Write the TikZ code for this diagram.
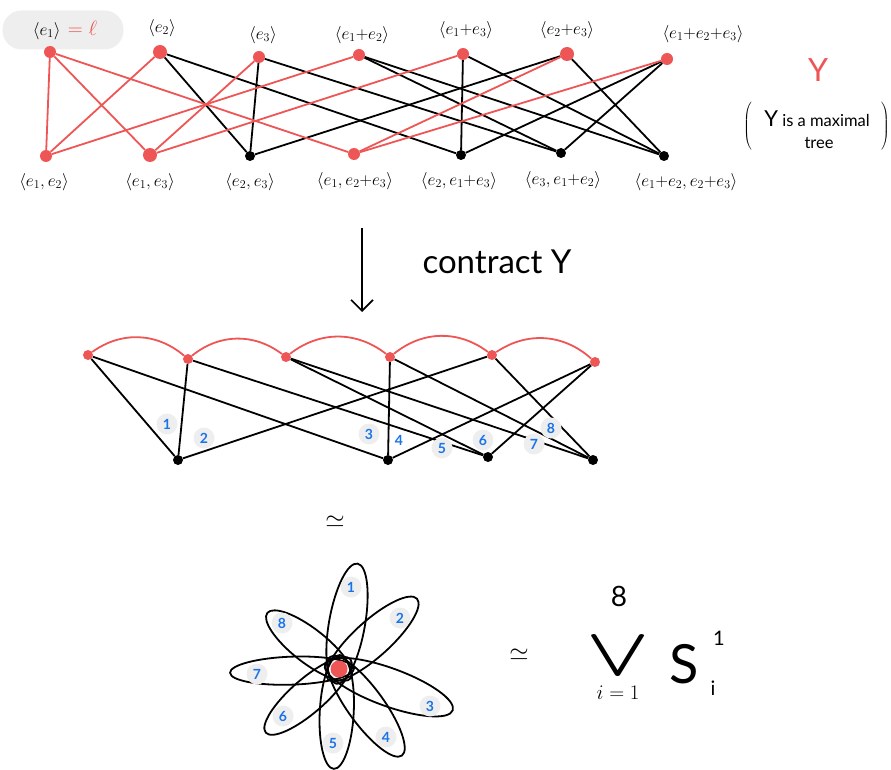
\documentclass[tikz,border=0pt]{standalone}
\usepackage{amsmath,amssymb}
\usepackage{fontspec}
\setmainfont{Lato}
\usetikzlibrary{arrows.meta,calc}
\definecolor{myred}{RGB}{238,85,85}
\definecolor{myblue}{RGB}{25,115,235}
\definecolor{bgray}{RGB}{238,238,238}
\begin{document}
\begin{tikzpicture}[x=1pt,y=1pt,
  rdot/.style={circle,fill=myred,inner sep=0pt,minimum size=12pt},
  bdot/.style={circle,fill=black,inner sep=0pt,minimum size=10pt},
  redge/.style={myred,line width=1.8pt},
  bedge/.style={black,line width=1.8pt},
  lbl/.style={font=\fontsize{17.28}{19}\selectfont, inner sep=1pt},
  num/.style={circle,fill=bgray,text=myblue,inner sep=0pt,minimum size=21pt,font=\fontsize{14}{16}\selectfont\bfseries},
  petal/.style={draw,line width=1.8pt}]
\useasboundingbox (0,0) rectangle (891,-770);

% ---------- top graph ----------
\node[fill=bgray,rounded corners=19pt,minimum width=121pt,minimum height=39pt] (bgbox) at (63,-30) {};
\node[lbl] (lt1) at (65,-30) {$\langle e_1\rangle$\, {\color{myred}\fontsize{20.74}{24}\selectfont$=\ell$}};
\node[lbl] (lt2) at (162,-28) {$\langle e_2\rangle$};
\node[lbl] (lt3) at (263,-35) {$\langle e_3\rangle$};
\node[lbl] (lt4) at (362,-35) {$\langle e_1{+}e_2\rangle$};
\node[lbl] (lt5) at (466,-30) {$\langle e_1{+}e_3\rangle$};
\node[lbl] (lt6) at (567,-30) {$\langle e_2{+}e_3\rangle$};
\node[lbl] (lt7) at (703,-34) {$\langle e_1{+}e_2{+}e_3\rangle$};

\node[lbl] (lb1) at (44,-182) {$\langle e_1,e_2\rangle$};
\node[lbl] (lb2) at (150,-182) {$\langle e_1,e_3\rangle$};
\node[lbl] (lb3) at (250,-182) {$\langle e_2,e_3\rangle$};
\node[lbl] (lb4) at (355,-181) {$\langle e_1,e_2{+}e_3\rangle$};
\node[lbl] (lb5) at (459,-181) {$\langle e_2,e_1{+}e_3\rangle$};
\node[lbl] (lb6) at (563,-180) {$\langle e_3,e_1{+}e_2\rangle$};
\node[lbl] (lb7) at (686,-182) {$\langle e_1{+}e_2,e_2{+}e_3\rangle$};

\node[rdot] (T1) at (50,-52) {};
\node[rdot,minimum size=14pt] (T2) at (160,-52) {};
\node[rdot] (T3) at (259,-57) {};
\node[rdot] (T4) at (359,-55) {};
\node[rdot] (T5) at (463,-54) {};
\node[rdot,minimum size=14pt] (T6) at (567,-54) {};
\node[rdot] (T7) at (667,-59) {};
\node[rdot] (B1) at (46,-156) {};
\node[rdot,minimum size=14pt] (B2) at (150,-155) {};
\node[bdot] (B3) at (250,-156) {};
\node[rdot] (B4) at (354,-154) {};
\node[bdot] (B5) at (461,-155) {};
\node[bdot] (B6) at (561,-153) {};
\node[bdot] (B7) at (664,-156) {};

\draw[bedge] (T2) -- (B3); \draw[bedge] (T2) -- (B5);
\draw[bedge] (T3) -- (B3); \draw[bedge] (T3) -- (B6);
\draw[bedge] (T4) -- (B6); \draw[bedge] (T4) -- (B7);
\draw[bedge] (T5) -- (B5); \draw[bedge] (T5) -- (B7);
\draw[bedge] (T6) -- (B3); \draw[bedge] (T6) -- (B7);
\draw[bedge] (T7) -- (B5); \draw[bedge] (T7) -- (B6);
\draw[redge] (T1) -- (B1); \draw[redge] (T1) -- (B2); \draw[redge] (T1) -- (B4);
\draw[redge] (T2) -- (B1); \draw[redge] (T3) -- (B2); \draw[redge] (T4) -- (B1);
\draw[redge] (T5) -- (B2); \draw[redge] (T6) -- (B4); \draw[redge] (T7) -- (B4);

\node[text=myred,font=\fontsize{32}{34}\selectfont] (Ylab) at (818,-70) {Y};
\node[inner sep=0pt] (pl) at (748,-127) {$\left(\vrule height 23pt depth 23pt width 0pt\right.$};
\node[inner sep=0pt] (pr) at (885,-127) {$\left.\vrule height 23pt depth 23pt width 0pt\right)$};
\node[inner sep=0pt,font=\fontsize{16.5}{20}\selectfont] (note1) at (817,-119) {{\fontsize{22}{22}\selectfont Y} is a maximal};
\node[inner sep=0pt,font=\fontsize{16.5}{20}\selectfont] (note2) at (819,-143) {tree};

% ---------- arrow ----------
\coordinate (a1) at (362,-228);
\coordinate (a2) at (362,-312);
\draw[line width=1.6pt,-{Straight Barb[length=11pt,width=22pt]}] (a1) -- (a2);
\node[font=\fontsize{33}{36}\selectfont] (contract) at (497,-262) {contract Y};

% ---------- middle graph ----------
\node[rdot,minimum size=10pt] (M1) at (88,-355) {};
\node[rdot,minimum size=10pt] (M2) at (188,-359) {};
\node[rdot,minimum size=10pt] (M3) at (286,-357) {};
\node[rdot,minimum size=10pt] (M4) at (390,-357) {};
\node[rdot,minimum size=10pt] (M5) at (492,-355) {};
\node[rdot,minimum size=10pt] (M6) at (595,-362) {};
\node[bdot] (N1) at (178,-460) {};
\node[bdot] (N2) at (388,-460) {};
\node[bdot] (N3) at (488,-457) {};
\node[bdot] (N4) at (593,-460) {};

\draw[redge] (M1) to[bend left=38] (M2);
\draw[redge] (M2) to[bend left=38] (M3);
\draw[redge] (M3) to[bend left=38] (M4);
\draw[redge] (M4) to[bend left=38] (M5);
\draw[redge] (M5) to[bend left=38] (M6);

\draw[bedge] (M1) -- (N1); \draw[bedge] (M1) -- (N2);
\draw[bedge] (M2) -- (N1); \draw[bedge] (M2) -- (N3);
\draw[bedge] (M3) -- (N3); \draw[bedge] (M3) -- (N4);
\draw[bedge] (M4) -- (N2); \draw[bedge] (M4) -- (N4);
\draw[bedge] (M5) -- (N1); \draw[bedge] (M5) -- (N4);
\draw[bedge] (M6) -- (N2); \draw[bedge] (M6) -- (N3);

\node[num] (m1) at (167,-424) {1};
\node[num] (m2) at (204,-438) {2};
\node[num] (m3) at (369,-434) {3};
\node[num,fill=none] (m4) at (399,-440) {4};
\node[num] (m5) at (442,-448) {5};
\node[num] (m6) at (483,-440) {6};
\node[num] (m7) at (534,-444) {7};
\node[num] (m8) at (551,-428) {8};

% ---------- flower ----------
\node[font=\fontsize{24.88}{26}\selectfont] (eq1) at (335,-522) {$\simeq$};
\coordinate (O) at (339,-669);
\draw[petal] ($(O)+(80:46)$)   ellipse[x radius=61,y radius=18,rotate=80];
\draw[petal] ($(O)+(42:45)$)   ellipse[x radius=60,y radius=18,rotate=42];
\draw[petal] ($(O)+(-20:53)$)  ellipse[x radius=68,y radius=19,rotate=-20];
\draw[petal] ($(O)+(-54:46)$)  ellipse[x radius=61,y radius=18,rotate=-54];
\draw[petal] ($(O)+(-93:43)$)  ellipse[x radius=57,y radius=17,rotate=-93];
\draw[petal] ($(O)+(221:41)$)  ellipse[x radius=56,y radius=17,rotate=221];
\draw[petal] ($(O)+(182:47)$)  ellipse[x radius=62,y radius=14,rotate=182];
\draw[petal] ($(O)+(142:38)$)  ellipse[x radius=53,y radius=17,rotate=142];
\node[rdot,minimum size=17pt] (center) at (O) {};

\node[num] (p1) at (351,-587) {1};
\node[num] (p2) at (400,-618) {2};
\node[num] (p3) at (430,-706) {3};
\node[num] (p4) at (386,-737) {4};
\node[num] (p5) at (333,-743) {5};
\node[num] (p6) at (283,-716) {6};
\node[num] (p7) at (257,-674) {7};
\node[num] (p8) at (282,-623) {8};

% ---------- formula ----------
\node[font=\fontsize{24.88}{26}\selectfont] (eq2) at (519,-655) {$\simeq$};
\node[font=\fontsize{28}{28}\selectfont,inner sep=0pt] (top8) at (619,-596) {8};
\node[font=\fontsize{42}{42}\selectfont,inner sep=0pt] (vee) at (618,-655) {\scalebox{1.75}[1]{$\bigvee$}};
\node[font=\fontsize{20.74}{22}\selectfont] (low) at (618,-693) {$i=1$};
\node[font=\fontsize{54}{54}\selectfont] (S) at (684,-664) {S};
\node[font=\fontsize{20}{20}\selectfont] (sup1) at (719,-638) {1};
\node[font=\fontsize{20}{20}\selectfont] (subi) at (713,-688) {i};
\end{tikzpicture}
\end{document}
